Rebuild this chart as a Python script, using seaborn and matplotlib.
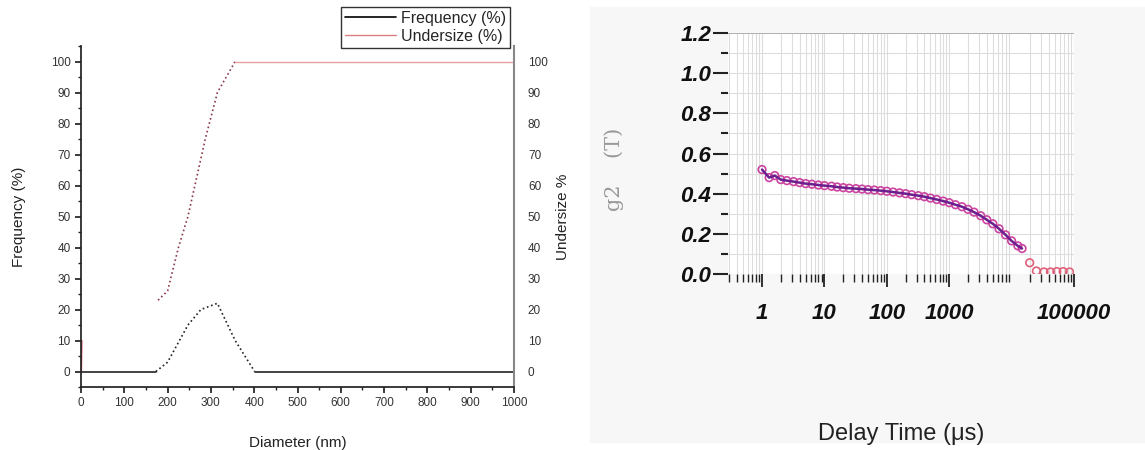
import numpy as np
import matplotlib
matplotlib.use('Agg')
import matplotlib.pyplot as plt
import matplotlib.ticker as mticker
from matplotlib.patches import Rectangle
from matplotlib.lines import Line2D
import seaborn as sns

sns.set_theme(style='white')
plt.rcParams['font.family'] = ['Liberation Sans', 'DejaVu Sans']

# 粒径分布数据 (左图)
freq_zero_left_x = [0, 173]
freq_zero_left_y = [0, 0]
freq_hump_x = [173, 200, 247, 277, 315, 356, 401]
freq_hump_y = [0, 3, 15, 20, 22, 10, 0]
freq_zero_right_x = [401, 1000]
freq_zero_right_y = [0, 0]

under_rise_x = [178, 200, 225, 247, 287, 315, 356]
under_rise_y = [23, 26, 40, 50, 75, 90, 100]
under_flat_x = [356, 1000]
under_flat_y = [100, 100]
spike_x = [1, 2]
spike_y = [0, 10]

# 相关函数数据 (右图)
tau = [1, 1.3, 1.6, 2, 2.5, 3.2, 4, 5, 6.3, 8, 10, 13, 16, 20, 25, 32, 40, 50,
       63, 80, 100, 126, 160, 200, 250, 320, 400, 500, 630, 800, 1000, 1260,
       1600, 2000, 2500, 3200, 4000, 5000, 6300, 8000, 10000, 12600, 14700]
g2 = [0.52, 0.48, 0.49, 0.47, 0.465, 0.46, 0.455, 0.45, 0.447, 0.443, 0.44,
      0.437, 0.433, 0.43, 0.427, 0.425, 0.423, 0.42, 0.418, 0.415, 0.412,
      0.408, 0.404, 0.40, 0.395, 0.39, 0.385, 0.378, 0.371, 0.363, 0.355,
      0.345, 0.335, 0.322, 0.308, 0.29, 0.27, 0.25, 0.225, 0.195, 0.165,
      0.14, 0.127]
tail_tau = [19500, 25000, 33000, 42000, 53000, 67000, 85000]
tail_g2 = [0.056, 0.015, 0.01, 0.01, 0.012, 0.012, 0.01]

fig = plt.figure(figsize=(11.45, 4.5), dpi=100)
bg = Rectangle((590 / 1145, 1 - 442 / 450), 555 / 1145, 435 / 450,
               transform=fig.transFigure, color='#f7f7f7', zorder=-10)
fig.patches.append(bg)

# ---- 左图 ----
ax = fig.add_axes([81 / 1145, 1 - 387 / 450, 433 / 1145, 341 / 450])
ax.set_facecolor('white')
sns.lineplot(x=freq_zero_left_x, y=freq_zero_left_y, ax=ax, color='#222222', lw=1.2)
sns.lineplot(x=freq_hump_x, y=freq_hump_y, ax=ax, color='#222222', lw=1.2, linestyle=':')
sns.lineplot(x=freq_zero_right_x, y=freq_zero_right_y, ax=ax, color='#222222', lw=1.2)
sns.lineplot(x=under_rise_x, y=under_rise_y, ax=ax, color='#8b3a4a', lw=1.2, linestyle=':')
sns.lineplot(x=under_flat_x, y=under_flat_y, ax=ax, color='#e6a0a0', lw=1.0)
sns.lineplot(x=spike_x, y=spike_y, ax=ax, color='#e05060', lw=1.0)
ax.set_xlim(0, 1000)
ax.set_ylim(-5, 105)
ax.set_xticks(range(0, 1001, 100))
ax.set_yticks(range(0, 101, 10))
ax.xaxis.set_minor_locator(mticker.MultipleLocator(50))
ax.yaxis.set_minor_locator(mticker.MultipleLocator(5))
ax.tick_params(which='both', direction='out', color='#222222', labelsize=8.5,
               labelcolor='#333333', left=True, bottom=True)
ax.tick_params(which='major', length=4)
ax.tick_params(which='minor', length=2)
ax.spines['top'].set_visible(False)
ax.spines['left'].set_color('#222222')
ax.spines['bottom'].set_color('#222222')
ax.spines['right'].set_color('#888888')
ax.spines['right'].set_linewidth(1.5)
ax.set_xlabel('Diameter (nm)', fontsize=11, color='#222222', labelpad=19)
ax.set_ylabel('Frequency (%)', fontsize=11, color='#222222', labelpad=18)

ax2 = ax.twinx()
ax2.set_ylim(-5, 105)
ax2.set_yticks(range(0, 101, 10))
ax2.tick_params(axis='y', length=0, labelsize=8.5, labelcolor='#333333', pad=10)
for s in ax2.spines.values():
    s.set_visible(False)
ax2.set_ylabel('Undersize %', fontsize=11, color='#222222', labelpad=6)
ax2.grid(False)

handles = [Line2D([], [], color='black', lw=1.2), Line2D([], [], color='#d98080', lw=1.0)]
leg = ax.legend(handles, ['Frequency (%)', 'Undersize (%)'], loc='upper right',
                bbox_to_anchor=(0.99, 1.115), fontsize=11.5, frameon=True, fancybox=False,
                borderpad=0.25, handlelength=3.2, handletextpad=0.3, labelspacing=0.2,
                borderaxespad=0)
leg.get_frame().set_edgecolor('black')
leg.get_frame().set_linewidth(1.0)

# ---- 右图 ----
bx = fig.add_axes([728 / 1145, 1 - 274 / 450, 346 / 1145, 241 / 450])
bx.set_facecolor('white')
bx.set_xscale('log')
sns.scatterplot(x=tau, y=g2, ax=bx, marker='o', s=30,
                facecolors='none', edgecolor='#cc44a0', linewidth=1.2, zorder=3)
sns.scatterplot(x=tail_tau, y=tail_g2, ax=bx, marker='o', s=30,
                facecolors='none', edgecolor='#e0607a', linewidth=1.2, zorder=3)
sns.lineplot(x=tau, y=g2, ax=bx, color='#6b1f8f', lw=1.8, zorder=4)
bx.set_xlim(0.285, 1e5)
bx.set_ylim(0, 1.2)
bx.set_xticks([1, 10, 100, 1000, 100000])
bx.set_xticklabels(['1', '10', '100', '1000', '100000'])
bx.xaxis.set_minor_locator(mticker.LogLocator(base=10, subs=np.arange(2, 10)))
bx.xaxis.set_minor_formatter(mticker.NullFormatter())
bx.set_yticks([0.0, 0.2, 0.4, 0.6, 0.8, 1.0, 1.2])
bx.set_yticklabels(['0.0', '0.2', '0.4', '0.6', '0.8', '1.0', '1.2'])
bx.yaxis.set_minor_locator(mticker.MultipleLocator(0.1))
bx.grid(True, which='both', color='#dddddd', lw=0.8)
bx.set_axisbelow(True)
for s in ['top', 'right', 'bottom', 'left']:
    bx.spines[s].set_visible(False)
bx.axhline(1.2, color='#aaaaaa', lw=1.2)
bx.tick_params(which='both', direction='out', color='#222222', left=True, bottom=True)
bx.tick_params(axis='y', which='major', length=11, width=1.5, pad=1)
bx.tick_params(axis='y', which='minor', length=5, width=1.5)
bx.tick_params(axis='x', which='major', length=9, width=1.3, pad=12)
bx.tick_params(axis='x', which='minor', length=6, width=1.0)
for lab in bx.get_xticklabels() + bx.get_yticklabels():
    lab.set_fontsize(16)
    lab.set_fontweight('bold')
    lab.set_fontstyle('italic')
    lab.set_color('#111111')
bx.set_xlabel('Delay Time (μs)', fontsize=17, color='#222222', labelpad=71)
bx.set_ylabel('g2    (T)', fontsize=15, color='#999999', family=['DejaVu Serif'])
bx.yaxis.set_label_coords(-0.30, 0.436)

fig.savefig('out.png', dpi=100)
